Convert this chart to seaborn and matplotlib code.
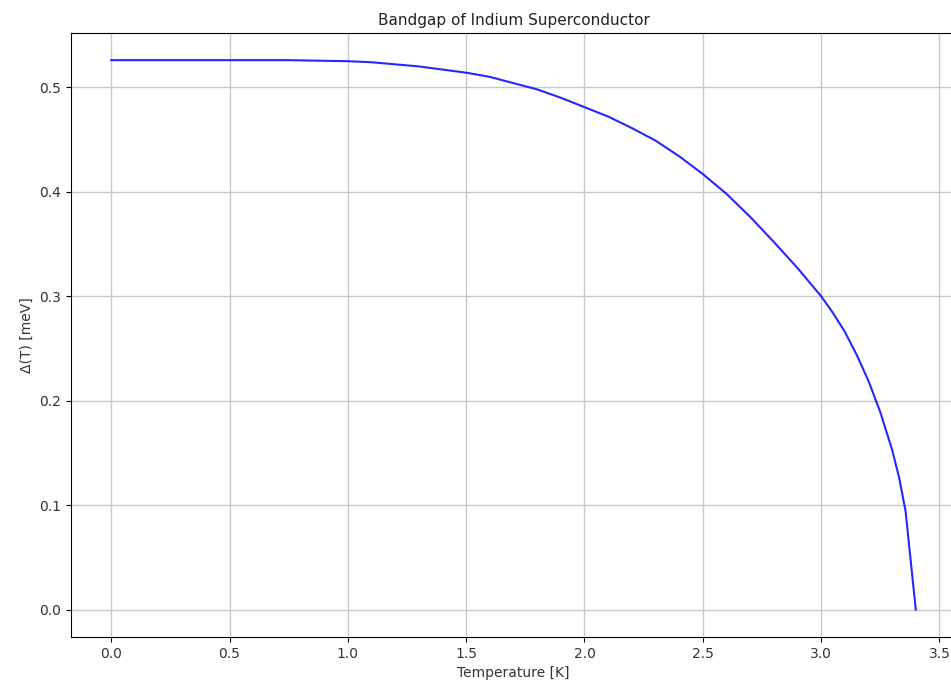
import numpy as np
import pandas as pd
import matplotlib
matplotlib.use("Agg")
import matplotlib.pyplot as plt
import seaborn as sns

# Werte
temperature = [0.0, 0.25, 0.5, 0.75, 1.0, 1.1, 1.2, 1.3, 1.4, 1.5, 1.6, 1.7,
               1.8, 1.9, 2.0, 2.1, 2.2, 2.3, 2.4, 2.5, 2.6, 2.7, 2.8, 2.9,
               2.95, 3.0, 3.05, 3.1, 3.15, 3.2, 3.25, 3.3, 3.33, 3.357, 3.4]
gap = [0.526, 0.526, 0.526, 0.526, 0.525, 0.524, 0.522, 0.520, 0.517, 0.514,
       0.510, 0.504, 0.498, 0.490, 0.481, 0.472, 0.461, 0.449, 0.434, 0.417,
       0.398, 0.376, 0.352, 0.327, 0.3135, 0.300, 0.284, 0.266, 0.244, 0.219,
       0.189, 0.153, 0.126, 0.094, 0.0]

df = pd.DataFrame({"T": temperature, "gap": gap})

fig = plt.figure(figsize=(9.51, 6.89), dpi=100)
ax = fig.add_axes([71 / 951, (689 - 637) / 689, (956 - 71) / 951, (637 - 33) / 689])

sns.lineplot(data=df, x="T", y="gap", color="blue", linewidth=1.5, alpha=0.85,
             sort=False, ax=ax)

ax.set_xlim(-0.17, 3.57)
ax.set_ylim(-0.0263, 0.552)
ax.set_xticks(np.arange(0, 3.51, 0.5))
ax.grid(True, color="#c8c8c8", linewidth=1.0)
ax.tick_params(labelcolor="#333333")
ax.set_title("Bandgap of Indium Superconductor", fontsize=11, color="#222222")
ax.set_xlabel("Temperature [K]", color="#333333")
ax.set_ylabel("Δ(T) [meV]", color="#333333")

fig.savefig("out.png", dpi=100)
plt.close()
